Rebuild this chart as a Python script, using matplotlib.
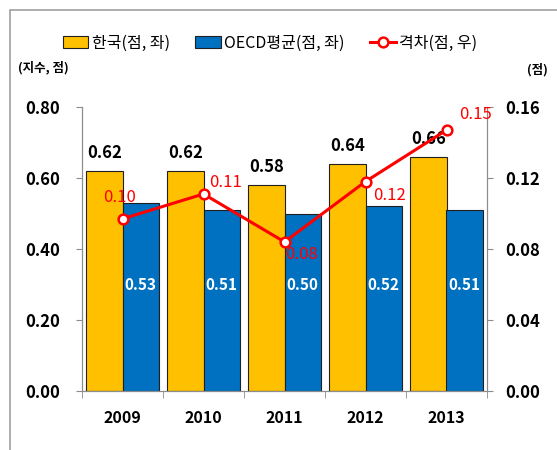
import matplotlib.pyplot as plt
import numpy as np
from matplotlib.patches import Rectangle
from matplotlib.lines import Line2D

plt.rcParams['font.family'] = ['Noto Sans CJK KR', 'DejaVu Sans']

years = ["2009", "2010", "2011", "2012", "2013"]
korea = [0.62, 0.62, 0.58, 0.64, 0.66]
oecd = [0.53, 0.51, 0.50, 0.52, 0.51]
gap = [0.097, 0.111, 0.084, 0.118, 0.147]
gap_labels = ["0.10", "0.11", "0.08", "0.12", "0.15"]
gap_offsets = [(-2, 15), (16, 8), (12, -9), (17, -10), (21, 11)]

YELLOW = "#FFC000"
BLUE = "#0070C0"
RED = "#FF0000"
GRAY = "#8c8c8c"

fig = plt.figure(figsize=(5.57, 4.5), dpi=100)
fig.patches.append(Rectangle((10 / 557, -0.1), 1.2, (440 / 450) + 0.1, transform=fig.transFigure,
                             fill=False, edgecolor="#a0a0a0", linewidth=1.2))

ax = fig.add_axes([82 / 557, 59 / 450, 405 / 557, 284 / 450])
x = np.arange(len(years))
w = 0.45
ax.bar(x - w / 2, korea, width=w, color=YELLOW, edgecolor="#202020", linewidth=0.8)
ax.bar(x + w / 2, oecd, width=w, color=BLUE, edgecolor="#202020", linewidth=0.8)

for i, (k, o) in enumerate(zip(korea, oecd)):
    ax.text(x[i] - w / 2, k + 0.025, f"{k:.2f}", ha="center", va="bottom",
            fontsize=12, fontweight="bold", color="black")
    ax.text(x[i] + w / 2, 0.30, f"{o:.2f}", ha="center", va="center",
            fontsize=11, fontweight="bold", color="white")

ax.set_xlim(-0.5, len(years) - 0.5)
ax.set_ylim(0, 0.8)
ax.set_yticks(np.arange(0, 0.81, 0.2))
ax.set_yticklabels([f"{v:.2f}" for v in np.arange(0, 0.81, 0.2)], fontsize=12, fontweight="bold")
ax.set_xticks(x)
ax.set_xticklabels(years, fontsize=11.5, fontweight="bold")
ax.tick_params(axis="x", length=0, pad=14)
ax.set_xticks(np.arange(-0.5, len(years)), minor=True)
ax.tick_params(axis="x", which="minor", length=5, color=GRAY)
ax.tick_params(axis="y", length=4, color=GRAY, pad=12)
ax.spines["top"].set_visible(False)
for s in ["left", "right", "bottom"]:
    ax.spines[s].set_color(GRAY)

ax2 = ax.twinx()
ax2.plot(x, gap, color=RED, linewidth=2.2, marker="o", markersize=7,
         markerfacecolor="white", markeredgecolor=RED, markeredgewidth=1.8, zorder=5)
for i, (g, lab) in enumerate(zip(gap, gap_labels)):
    ax2.annotate(lab, (x[i], g), xytext=gap_offsets[i], textcoords="offset points",
                 ha="center", va="center", fontsize=12, fontweight="medium", color=RED)
ax2.set_ylim(0, 0.16)
ax2.set_yticks(np.arange(0, 0.161, 0.04))
ax2.set_yticklabels([f"{v:.2f}" for v in np.arange(0, 0.161, 0.04)], fontsize=12, fontweight="bold")
ax2.tick_params(axis="y", length=4, color=GRAY, pad=9)
ax2.spines["top"].set_visible(False)
for s in ["left", "right", "bottom"]:
    ax2.spines[s].set_color(GRAY)

fig.text(18 / 557, 1 - 68 / 450, "(지수, 점)", fontsize=9, fontweight="bold", va="center", ha="left")
fig.text(548 / 557, 1 - 70 / 450, "(점)", fontsize=9, fontweight="bold", va="center", ha="right")

handles = [
    Rectangle((0, 0), 1, 1, facecolor=YELLOW, edgecolor="#202020", linewidth=0.8),
    Rectangle((0, 0), 1, 1, facecolor=BLUE, edgecolor="#202020", linewidth=0.8),
    Line2D([], [], color=RED, linewidth=2.2, marker="o", markersize=7,
           markerfacecolor="white", markeredgecolor=RED, markeredgewidth=1.8),
]
fig.legend(handles, ["한국(점, 좌)", "OECD평균(점, 좌)", "격차(점, 우)"],
           loc="center", bbox_to_anchor=(270 / 557, 1 - 43 / 450), ncol=3, frameon=False,
           fontsize=11.5, handlelength=1.6, handletextpad=0.2, columnspacing=1.6)

fig.savefig("out.png", dpi=100)
